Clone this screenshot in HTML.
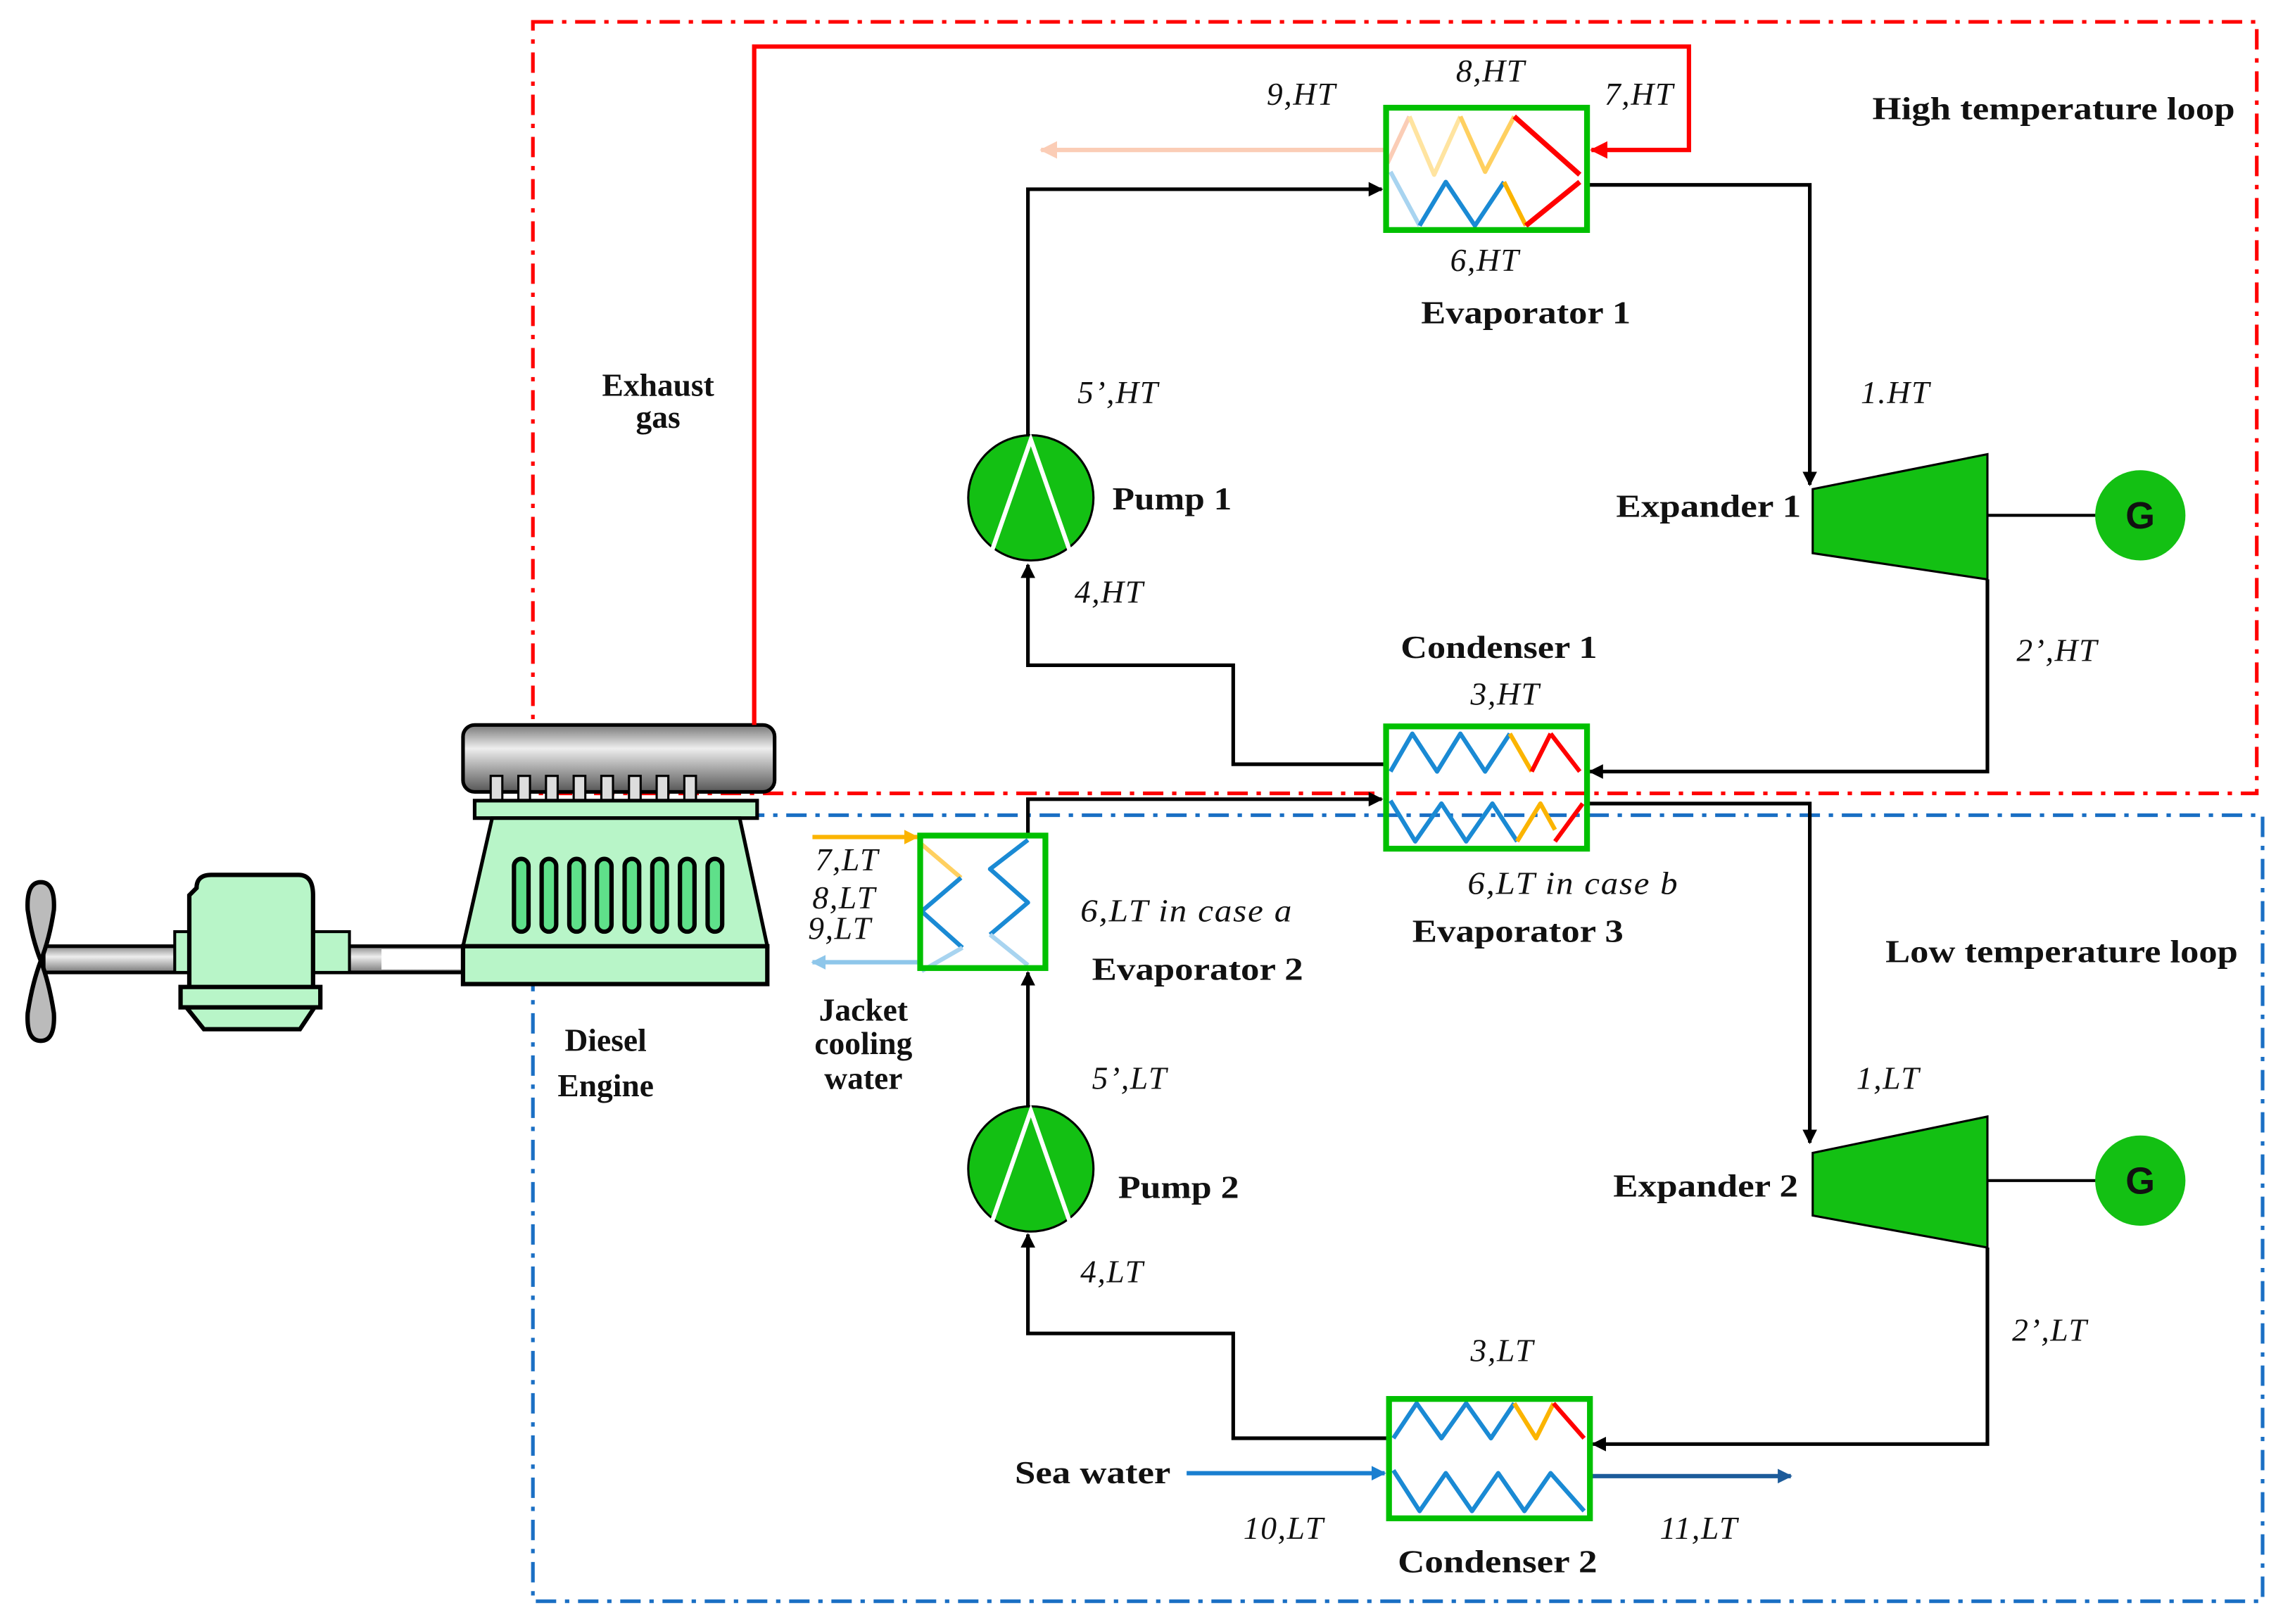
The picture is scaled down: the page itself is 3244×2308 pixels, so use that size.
<!DOCTYPE html>
<html><head><meta charset="utf-8"><style>html,body{margin:0;padding:0;background:#fff}svg{display:block}</style></head>
<body>
<svg xmlns="http://www.w3.org/2000/svg" width="3244" height="2308" viewBox="0 0 1568 1115.6">
<defs>
<marker id="ak" markerWidth="10" markerHeight="10" refX="9" refY="5" orient="auto" markerUnits="userSpaceOnUse"><path d="M0,0 L10,5 L0,10 z" fill="#000"/></marker>
<marker id="ar" markerWidth="12" markerHeight="12" refX="11" refY="6" orient="auto" markerUnits="userSpaceOnUse"><path d="M0,0 L12,6 L0,12 z" fill="#f00"/></marker>
<marker id="ap" markerWidth="12" markerHeight="12" refX="11" refY="6" orient="auto" markerUnits="userSpaceOnUse"><path d="M0,0 L12,6 L0,12 z" fill="#fbcdb6"/></marker>
<marker id="ay" markerWidth="10" markerHeight="10" refX="9" refY="5" orient="auto" markerUnits="userSpaceOnUse"><path d="M0,0 L10,5 L0,10 z" fill="#fbb400"/></marker>
<marker id="alb" markerWidth="10" markerHeight="10" refX="9" refY="5" orient="auto" markerUnits="userSpaceOnUse"><path d="M0,0 L10,5 L0,10 z" fill="#8ec6ea"/></marker>
<marker id="ab" markerWidth="10" markerHeight="10" refX="9" refY="5" orient="auto" markerUnits="userSpaceOnUse"><path d="M0,0 L10,5 L0,10 z" fill="#1a7fd0"/></marker>
<marker id="adb" markerWidth="10" markerHeight="10" refX="9" refY="5" orient="auto" markerUnits="userSpaceOnUse"><path d="M0,0 L10,5 L0,10 z" fill="#1c5b9a"/></marker>
<linearGradient id="gm" x1="0" y1="0" x2="0" y2="1"><stop offset="0" stop-color="#777"/><stop offset="0.35" stop-color="#eee"/><stop offset="1" stop-color="#555"/></linearGradient>
<linearGradient id="gs" x1="0" y1="0" x2="0" y2="1"><stop offset="0" stop-color="#888"/><stop offset="0.4" stop-color="#eee"/><stop offset="1" stop-color="#777"/></linearGradient>
</defs>

<rect x="366" y="15" width="1184" height="530" fill="none" stroke="#f00" stroke-width="2.5" stroke-dasharray="14,6,3,6"/>
<rect x="366" y="560" width="1188" height="540" fill="none" stroke="#1a6fc4" stroke-width="2.5" stroke-dasharray="14,6,3,6"/>

<!-- propeller & shaft -->
<rect x="30" y="650" width="290" height="18" fill="url(#gs)" stroke="#000" stroke-width="2.5"/>
<rect x="262" y="652" width="56" height="14" fill="#fff"/>
<path d="M28,606 Q18,606 19,625 Q22,645 28,660 Q34,645 37,625 Q38,606 28,606 Z" fill="#bbb" stroke="#000" stroke-width="3"/>
<path d="M28,715 Q18,715 19,696 Q22,676 28,660 Q34,676 37,696 Q38,715 28,715 Z" fill="#bbb" stroke="#000" stroke-width="3"/>
<rect x="120" y="640" width="120" height="28" fill="#b8f5c8" stroke="#000" stroke-width="2"/>
<path d="M135,610 Q135,601 145,601 L205,601 Q215,601 215,615 L215,680 L130,680 L130,615 Z" fill="#b8f5c8" stroke="#000" stroke-width="3"/>
<rect x="124" y="678" width="96" height="14" fill="#b8f5c8" stroke="#000" stroke-width="3"/>
<path d="M128,692 L216,692 L206,707 L140,707 Z" fill="#b8f5c8" stroke="#000" stroke-width="3"/>

<!-- engine -->
<rect x="318" y="498" width="214" height="46" rx="8" fill="url(#gm)" stroke="#000" stroke-width="2.5"/>
<g fill="#ddd" stroke="#000" stroke-width="1.5">
<rect x="337" y="533" width="8" height="18"/><rect x="356" y="533" width="8" height="18"/><rect x="375" y="533" width="8" height="18"/><rect x="394" y="533" width="8" height="18"/><rect x="413" y="533" width="8" height="18"/><rect x="432" y="533" width="8" height="18"/><rect x="451" y="533" width="8" height="18"/><rect x="470" y="533" width="8" height="18"/>
</g>
<rect x="326" y="550" width="194" height="12" fill="#b8f5c8" stroke="#000" stroke-width="2.5"/>
<path d="M338,562 L508,562 L527,650 L318,650 Z" fill="#b8f5c8" stroke="#000" stroke-width="2.5"/>
<rect x="318" y="650" width="209" height="26" fill="#b8f5c8" stroke="#000" stroke-width="3"/>
<g fill="#5fe08a" stroke="#000" stroke-width="3">
<rect x="353" y="590" width="10" height="50" rx="5"/><rect x="372" y="590" width="10" height="50" rx="5"/><rect x="391" y="590" width="10" height="50" rx="5"/><rect x="410" y="590" width="10" height="50" rx="5"/><rect x="429" y="590" width="10" height="50" rx="5"/><rect x="448" y="590" width="10" height="50" rx="5"/><rect x="467" y="590" width="10" height="50" rx="5"/><rect x="486" y="590" width="10" height="50" rx="5"/>
</g>

<polyline points="518,498 518,32 1160,32 1160,103 1093,103" fill="none" stroke="#f00" stroke-width="3" marker-end="url(#ar)"/>
<line x1="951" y1="103" x2="715" y2="103" stroke="#fbcdb6" stroke-width="3" marker-end="url(#ap)"/>

<polyline points="706,300 706,130 949,130" fill="none" stroke="#000" stroke-width="2.5" marker-end="url(#ak)"/>
<polyline points="1090,127 1243,127 1243,333" fill="none" stroke="#000" stroke-width="2.5" marker-end="url(#ak)"/>
<line x1="1365" y1="354" x2="1440" y2="354" stroke="#000" stroke-width="2"/>
<polyline points="1365,398 1365,530 1092,530" fill="none" stroke="#000" stroke-width="2.5" marker-end="url(#ak)"/>
<polyline points="951,525 847,525 847,457 706,457 706,388" fill="none" stroke="#000" stroke-width="2.5" marker-end="url(#ak)"/>

<polyline points="706,573 706,549 949,549" fill="none" stroke="#000" stroke-width="2.5" marker-end="url(#ak)"/>
<polyline points="1090,552 1243,552 1243,785" fill="none" stroke="#000" stroke-width="2.5" marker-end="url(#ak)"/>
<line x1="1365" y1="811" x2="1440" y2="811" stroke="#000" stroke-width="2"/>
<polyline points="706,760 706,668" fill="none" stroke="#000" stroke-width="2.5" marker-end="url(#ak)"/>
<polyline points="1365,857 1365,992 1094,992" fill="none" stroke="#000" stroke-width="2.5" marker-end="url(#ak)"/>
<polyline points="953,988 847,988 847,916 706,916 706,848" fill="none" stroke="#000" stroke-width="2.5" marker-end="url(#ak)"/>

<line x1="815" y1="1012" x2="951" y2="1012" stroke="#1a7fd0" stroke-width="3" marker-end="url(#ab)"/>
<line x1="1092" y1="1014" x2="1230" y2="1014" stroke="#1c5b9a" stroke-width="3" marker-end="url(#adb)"/>
<line x1="558" y1="575" x2="630" y2="575" stroke="#fbb400" stroke-width="3" marker-end="url(#ay)"/>
<line x1="630" y1="661" x2="558" y2="661" stroke="#8ec6ea" stroke-width="3" marker-end="url(#alb)"/>

<g stroke-width="3" fill="none" stroke-linejoin="round">
<path d="M953,112 L968,80" stroke="#fbcdb6"/>
<path d="M968,80 L985,120 L1003,80" stroke="#ffe4a0"/>
<path d="M1003,80 L1020,118 L1040,80" stroke="#ffd060"/>
<path d="M1040,80 L1085,120" stroke="#f00" stroke-width="3.5"/>
<path d="M955,118 L975,155" stroke="#a8d4f0"/>
<path d="M975,155 L993,125 L1013,155 L1033,125" stroke="#1a8ad4"/>
<path d="M1033,125 L1048,155" stroke="#fbb400"/>
<path d="M1048,155 L1085,125" stroke="#f00" stroke-width="3.5"/>
</g>
<rect x="952" y="74" width="138" height="84" fill="none" stroke="#00c000" stroke-width="4"/>

<g stroke-width="3" fill="none" stroke-linejoin="round">
<path d="M955,530 L970,504 L987,530 L1003,504 L1020,530 L1037,504" stroke="#1a8ad4"/>
<path d="M1037,504 L1052,530" stroke="#fbb400"/>
<path d="M1065,504 L1085,530 M1052,530 L1065,504" stroke="#f00"/>
<path d="M955,550 L972,578 L990,552 L1007,578 L1025,552 L1042,578" stroke="#1a8ad4"/>
<path d="M1042,578 L1058,552 L1068,570" stroke="#fbb400"/>
<path d="M1068,578 L1087,552" stroke="#f00"/>
</g>
<rect x="952" y="499" width="138" height="84" fill="none" stroke="#00c000" stroke-width="4"/>

<g stroke-width="3" fill="none" stroke-linejoin="round">
<path d="M957,988 L973,964 L990,988 L1007,964 L1024,988 L1040,964" stroke="#1a8ad4"/>
<path d="M1040,964 L1055,988 L1067,964" stroke="#fbb400"/>
<path d="M1067,964 L1088,988" stroke="#f00"/>
<path d="M957,1010 L975,1038 L993,1012 L1011,1038 L1029,1012 L1047,1038 L1065,1012 L1088,1038" stroke="#1a8ad4"/>
</g>
<rect x="954" y="961" width="138" height="82" fill="none" stroke="#00c000" stroke-width="4"/>

<g stroke-width="3" fill="none" stroke-linejoin="round">
<path d="M633,580 L660,603" stroke="#ffd060"/>
<path d="M660,603 L633,626 L661,651" stroke="#1a8ad4"/>
<path d="M661,651 L633,667" stroke="#a8d4f0"/>
<path d="M706,577 L680,597 L706,620 L680,642" stroke="#1a8ad4"/>
<path d="M680,642 L706,663" stroke="#a8d4f0"/>
</g>
<rect x="632" y="574" width="86" height="91" fill="none" stroke="#00c000" stroke-width="4"/>

<circle cx="708" cy="342" r="43" fill="#13c013" stroke="#000" stroke-width="1.5"/>
<path d="M680,382 L708,302 L736,382" fill="none" stroke="#fff" stroke-width="3"/>
<circle cx="708" cy="803" r="43" fill="#13c013" stroke="#000" stroke-width="1.5"/>
<path d="M680,843 L708,763 L736,843" fill="none" stroke="#fff" stroke-width="3"/>

<path d="M1245,336 L1365,312 L1365,398 L1245,380 Z" fill="#13c013" stroke="#000" stroke-width="1.5"/>
<path d="M1245,792 L1365,767 L1365,857 L1245,835 Z" fill="#13c013" stroke="#000" stroke-width="1.5"/>
<circle cx="1470" cy="354" r="31" fill="#13c013"/>
<circle cx="1470" cy="811" r="31" fill="#13c013"/>

<g font-family="Liberation Serif, serif" font-size="22" fill="#111">
<text x="1470" y="363" text-anchor="middle" font-family="Liberation Sans, sans-serif" font-weight="bold" font-size="26">G</text>
<text x="1470" y="820" text-anchor="middle" font-family="Liberation Sans, sans-serif" font-weight="bold" font-size="26">G</text>
<g font-weight="bold" lengthAdjust="spacingAndGlyphs">
<text x="1286" y="82" textLength="249" lengthAdjust="spacingAndGlyphs">High temperature loop</text>
<text x="1295" y="661" textLength="242" lengthAdjust="spacingAndGlyphs">Low temperature loop</text>
<text x="976" y="222" textLength="144" lengthAdjust="spacingAndGlyphs">Evaporator 1</text>
<text x="1110" y="355" textLength="127" lengthAdjust="spacingAndGlyphs">Expander 1</text>
<text x="764" y="350" textLength="82" lengthAdjust="spacingAndGlyphs">Pump 1</text>
<text x="962" y="452" textLength="135" lengthAdjust="spacingAndGlyphs">Condenser 1</text>
<text x="970" y="647" textLength="145" lengthAdjust="spacingAndGlyphs">Evaporator 3</text>
<text x="750" y="673" textLength="145" lengthAdjust="spacingAndGlyphs">Evaporator 2</text>
<text x="1108" y="822" textLength="127" lengthAdjust="spacingAndGlyphs">Expander 2</text>
<text x="768" y="823" textLength="83" lengthAdjust="spacingAndGlyphs">Pump 2</text>
<text x="960" y="1080" textLength="137" lengthAdjust="spacingAndGlyphs">Condenser 2</text>
<text x="697" y="1019" textLength="107" lengthAdjust="spacingAndGlyphs">Sea water</text>
<text x="452" y="272" text-anchor="middle">Exhaust</text>
<text x="452" y="294" text-anchor="middle">gas</text>
<text x="416" y="722" text-anchor="middle">Diesel</text>
<text x="416" y="753" text-anchor="middle">Engine</text>
<text x="593" y="701" text-anchor="middle">Jacket</text>
<text x="593" y="724" text-anchor="middle">cooling</text>
<text x="593" y="748" text-anchor="middle">water</text>
</g>
<g font-style="italic" letter-spacing="0.8">
<text x="1000" y="56">8,HT</text>
<text x="1102" y="72">7,HT</text>
<text x="870" y="72">9,HT</text>
<text x="996" y="186">6,HT</text>
<text x="740" y="277">5’,HT</text>
<text x="1278" y="277">1.HT</text>
<text x="738" y="414">4,HT</text>
<text x="1385" y="454">2’,HT</text>
<text x="1010" y="484">3,HT</text>
<text x="1008" y="614" textLength="145" lengthAdjust="spacingAndGlyphs">6,LT in case b</text>
<text x="742" y="633" textLength="146" lengthAdjust="spacingAndGlyphs">6,LT in case a</text>
<text x="560" y="598">7,LT</text>
<text x="558" y="624">8,LT</text>
<text x="555" y="645">9,LT</text>
<text x="750" y="748">5’,LT</text>
<text x="1275" y="748">1,LT</text>
<text x="742" y="881">4,LT</text>
<text x="1382" y="921">2’,LT</text>
<text x="1010" y="935">3,LT</text>
<text x="854" y="1057">10,LT</text>
<text x="1140" y="1057">11,LT</text>
</g>
</g>
</svg>
</body></html>
